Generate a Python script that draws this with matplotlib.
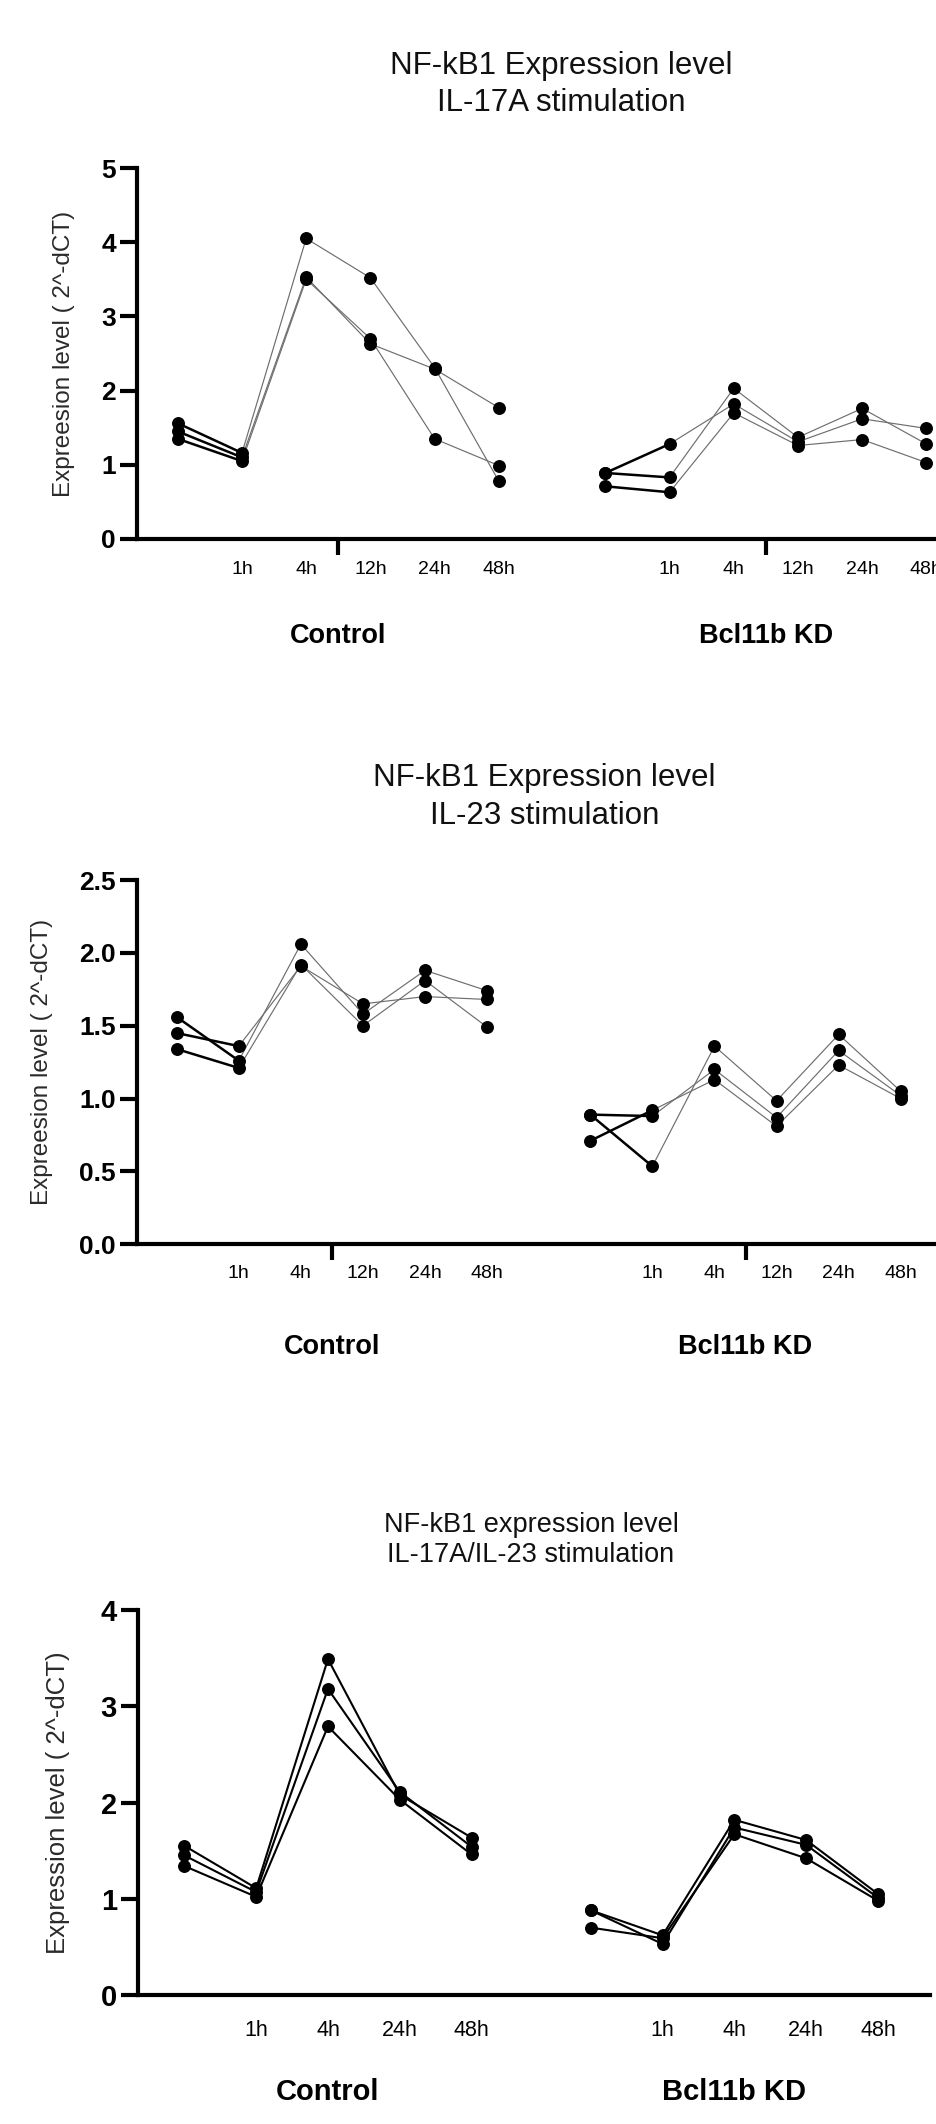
import numpy as np
import matplotlib
matplotlib.use("Agg")
import matplotlib.pyplot as plt
import matplotlib.transforms as mtransforms

plt.rcParams["font.family"] = ["Liberation Sans", "DejaVu Sans"]

# ---- data ----
GROUPS = ["Control", "Bcl11b KD"]
TIMES_6 = ["", "1h", "4h", "12h", "24h", "48h"]
TIMES_5 = ["", "1h", "4h", "24h", "48h"]

# IL-17A stimulation, 3 replicates each
il17a_control = [[1.56, 1.16, 4.05, 3.52, 2.31, 0.78],
                 [1.45, 1.10, 3.53, 2.63, 2.29, 1.77],
                 [1.35, 1.05, 3.50, 2.70, 1.35, 0.99]]
il17a_kd = [[0.89, 1.28, 1.82, 1.31, 1.62, 1.49],
            [0.89, 0.83, 2.03, 1.37, 1.76, 1.28],
            [0.71, 0.63, 1.70, 1.26, 1.34, 1.03]]

# IL-23 stimulation
il23_control = [[1.56, 1.26, 2.06, 1.58, 1.88, 1.74],
                [1.45, 1.36, 1.91, 1.65, 1.70, 1.68],
                [1.34, 1.21, 1.92, 1.50, 1.81, 1.49]]
il23_kd = [[0.89, 0.88, 1.20, 0.87, 1.33, 1.02],
           [0.89, 0.535, 1.36, 0.985, 1.44, 1.05],
           [0.71, 0.92, 1.13, 0.81, 1.23, 1.00]]

# IL-17A/IL-23 stimulation
combo_control = [[1.55, 1.11, 3.49, 2.08, 1.635],
                 [1.45, 1.07, 3.18, 2.11, 1.54],
                 [1.34, 1.02, 2.79, 2.03, 1.46]]
combo_kd = [[0.88, 0.62, 1.82, 1.61, 1.05],
            [0.88, 0.53, 1.74, 1.56, 1.01],
            [0.70, 0.59, 1.67, 1.42, 0.98]]

W, H = 936, 2124
GAP = 1.66  # blank slots between the two groups


def panel(fig, left, top, bottom, spacing, xlo, xhi, series, times, ymax,
          ystep, yfmt, ylabel, ylab_x, tick_pad, group_y, sizes, first_bold):
    right = left + (xhi - xlo) * spacing
    ax = fig.add_axes([left / W, 1 - bottom / H, (right - left) / W,
                       (bottom - top) / H])
    n = len(times)
    xs, labels, centers = [], [], []
    for g, reps in enumerate(series):
        x = np.arange(n) + g * (n - 1 + GAP)
        xs.extend(x); labels.extend(times); centers.append(x.mean())
        for vals in reps:
            if first_bold:
                ax.plot(x[:2], vals[:2], color="black", lw=1.8, zorder=2)
                ax.plot(x[1:], vals[1:], color="#6e6e6e", lw=0.85, zorder=2)
            else:
                ax.plot(x, vals, color="black", lw=1.5, zorder=2)
            ax.plot(x, vals, "o", color="black", ms=8.3, zorder=3,
                    clip_on=False)
    ax.set_xlim(xlo, xhi)
    ax.set_ylim(0, ymax)
    ax.set_yticks(np.arange(0, ymax + 1e-9, ystep))
    ax.yaxis.set_major_formatter(plt.FormatStrFormatter(yfmt))
    ax.set_xticks(xs, labels)
    ax.set_xticks(centers, minor=True)
    for s in ("top", "right"):
        ax.spines[s].set_visible(False)
    for s in ("left", "bottom"):
        ax.spines[s].set_linewidth(3.0)
        ax.spines[s].set_capstyle("projecting")
    ax.tick_params(axis="y", length=12, width=3.0, pad=3,
                   labelsize=sizes["ytick"])
    ax.tick_params(axis="x", which="major", length=0, pad=tick_pad,
                   labelsize=sizes["xtick"])
    ax.tick_params(axis="x", which="minor", length=11.5, width=3.0)
    for t in ax.get_yticklabels():
        t.set_fontweight("bold")
    for t in ax.get_xticklabels():
        t.set_verticalalignment("center")
    ax.set_ylabel(ylabel, fontsize=sizes["ylabel"], color="#2a2a2a")
    ax.yaxis.set_label_coords((ylab_x - left) / (right - left), 0.5)
    trans = mtransforms.blended_transform_factory(ax.transData, ax.transAxes)
    gy = -(group_y - bottom) / (bottom - top)
    for c, name in zip(centers, GROUPS):
        ax.text(c, gy, name, transform=trans, ha="center", va="center",
                fontsize=sizes["group"], fontweight="bold")
    return ax


def title(fig, x, ys, lines, size):
    for y, s in zip(ys, lines):
        fig.text(x / W, 1 - y / H, s, ha="center", va="center", fontsize=size,
                 color="#111111")


def main():
    fig = plt.figure(figsize=(W / 100, H / 100), dpi=100)

    s12 = dict(ytick=19, xtick=14, ylabel=17.5, group=19.5)
    title(fig, 561, [66, 103], ["NF-kB1 Expression level",
                                "IL-17A stimulation"], 22.5)
    panel(fig, 136.7, 168, 539, 64.2, -0.64, 12.6,
          [il17a_control, il17a_kd], TIMES_6, 5, 1, "%d",
          "Expreesion level ( 2^-dCT)", 75, 21.6, 636, s12, True)

    title(fig, 544.5, [778, 816], ["NF-kB1 Expression level",
                                   "IL-23 stimulation"], 22.5)
    panel(fig, 136.7, 880, 1244.3, 62.1, -0.644, 12.6,
          [il23_control, il23_kd], TIMES_6, 2.5, 0.5, "%.1f",
          "Expreesion level ( 2^-dCT)", 53, 20.9, 1347, s12, True)

    s3 = dict(ytick=21, xtick=15.5, ylabel=18.5, group=21)
    title(fig, 531, [1525, 1555], ["NF-kB1 expression level",
                                   "IL-17A/IL-23 stimulation"], 19.5)
    panel(fig, 137.7, 1610, 1995, 71.8, -0.65, 10.39,
          [combo_control, combo_kd], TIMES_5, 4, 1, "%d",
          "Expression level ( 2^-dCT)", 70, 25.2, 2092, s3, False)

    fig.savefig("out.png", dpi=100)


if __name__ == "__main__":
    main()
